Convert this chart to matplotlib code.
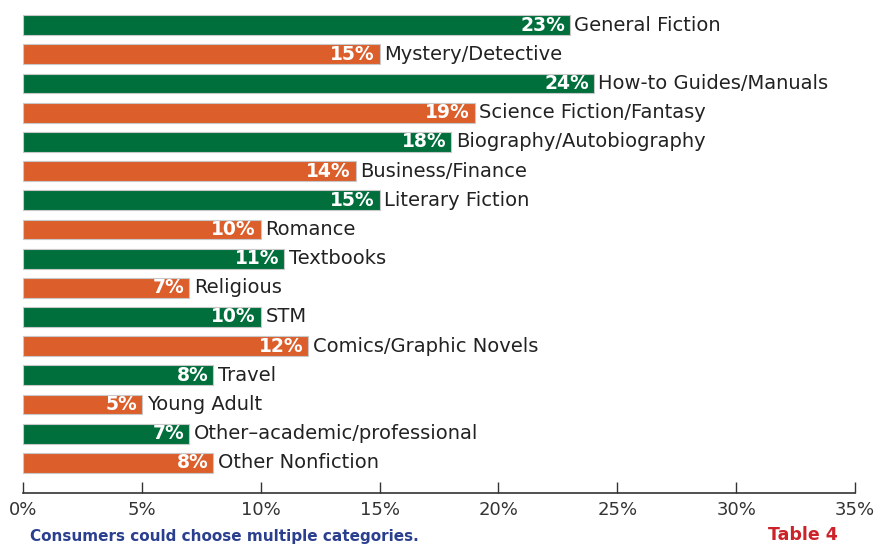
import matplotlib.pyplot as plt
import numpy as np

# Book categories purchased (share of consumers)
categories = ['General Fiction', 'Mystery/Detective', 'How-to Guides/Manuals',
              'Science Fiction/Fantasy', 'Biography/Autobiography', 'Business/Finance',
              'Literary Fiction', 'Romance', 'Textbooks', 'Religious', 'STM',
              'Comics/Graphic Novels', 'Travel', 'Young Adult',
              'Other\u2013academic/professional', 'Other Nonfiction']
values = [23, 15, 24, 19, 18, 14, 15, 10, 11, 7, 10, 12, 8, 5, 7, 8]
ticks = [0, 5, 10, 15, 20, 25, 30, 35]

green = '#006f3c'
orange = '#dc5e2b'
colors = [green if i % 2 == 0 else orange for i in range(len(values))]

fig = plt.figure(figsize=(8.78, 5.45), dpi=100)
ax = fig.add_axes([23/878, 52/545, 832/878, 493/545])

y = np.arange(len(values))
ax.barh(y, values, height=0.68, color=colors, edgecolor='#c8c8c8', linewidth=0.8)

for yi, v, name in zip(y, values, categories):
    ax.text(v - 0.2, yi, f'{v}%', color='white', fontweight='bold',
            fontsize=13.5, ha='right', va='center')
    ax.text(v + 0.2, yi, name, color='#222222', fontsize=14,
            ha='left', va='center')

ax.set_xlim(0, 35)
ax.set_ylim(16.03, -0.86)
ax.set_xticks(ticks)
ax.set_xticklabels([f'{t}%' for t in ticks], fontsize=13, color='#333333')
ax.set_yticks([])
ax.tick_params(axis='x', direction='in', length=8, width=1, color='#333333', pad=6)
for s in ['top', 'right', 'left']:
    ax.spines[s].set_visible(False)
ax.spines['bottom'].set_color('#333333')
ax.spines['bottom'].set_linewidth(1.2)

fig.text(30/878, 1 - 537/545, 'Consumers could choose multiple categories.',
         color='#2b3f8f', fontweight='bold', fontsize=11, ha='left', va='center')
fig.text(768/878, 0.002, 'Table 4', color='#cc2229', fontweight='bold',
         fontsize=12.5, ha='left', va='bottom')

fig.savefig('out.png', dpi=100)
